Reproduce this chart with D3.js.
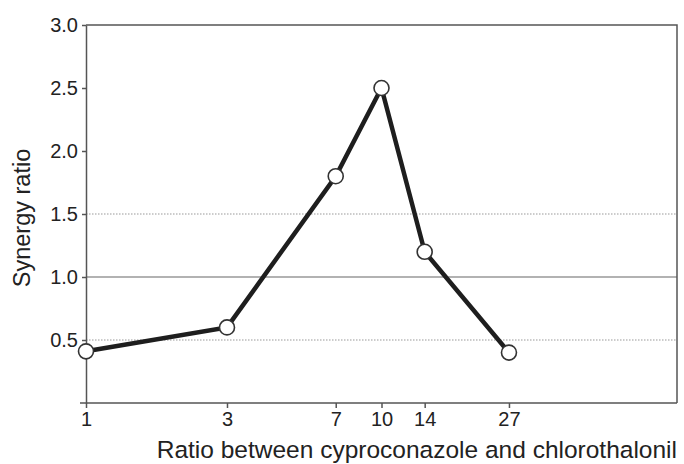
<!DOCTYPE html>
<html>
<head>
<meta charset="utf-8">
<script src="https://cdn.jsdelivr.net/npm/d3@7"></script>
<style>
  body { margin: 0; background: #fff; }
  svg { display: block; font-family: "Liberation Sans", Arial, sans-serif; }
  .axis text { fill: #222; }
  .axis path, .axis line { stroke: #555; stroke-width: 1.5; }
</style>
</head>
<body>
<svg id="chart" width="684" height="464"></svg>
<script>
const ratios = [1, 3, 7, 10, 14, 27];
const synergy = [0.41, 0.6, 1.8, 2.5, 1.2, 0.4];
const yTicks = [0.5, 1.0, 1.5, 2.0, 2.5, 3.0];
const dottedLines = [0.5, 1.5];
const solidLines = [1.0];

const svg = d3.select('#chart');
const margin = { top: 25, right: 7, bottom: 61, left: 86 };
const width = 684, height = 464;

const x = d3.scaleLog().domain([1, 100]).range([margin.left, width - margin.right]);
const y = d3.scaleLinear().domain([0, 3]).range([height - margin.bottom, margin.top]);

// grid
svg.append('g').selectAll('line').data(dottedLines).join('line')
  .attr('x1', margin.left).attr('x2', width - margin.right)
  .attr('y1', (d) => y(d)).attr('y2', (d) => y(d))
  .attr('stroke', '#999').attr('stroke-width', 1.2).attr('stroke-dasharray', '1.5,1.5');
svg.append('g').selectAll('line').data(solidLines).join('line')
  .attr('x1', margin.left).attr('x2', width - margin.right)
  .attr('y1', (d) => y(d)).attr('y2', (d) => y(d))
  .attr('stroke', '#666').attr('stroke-width', 1.2);

// frame top + right
svg.append('path')
  .attr('d', `M${margin.left},${y(3)}H${width - margin.right}V${y(0)}`)
  .attr('fill', 'none').attr('stroke', '#555').attr('stroke-width', 1.5);

svg.append('g').attr('class', 'axis')
  .attr('transform', `translate(0,${y(0)})`)
  .call(d3.axisBottom(x).tickValues(ratios).tickFormat(d3.format('d')).tickSize(5).tickPadding(4).tickSizeOuter(0))
  .call((g) => g.select('.domain').attr('d', `M${margin.left - 6},0H${width - margin.right}`))
  .attr('font-size', 20).attr('font-family', null);

svg.append('g').attr('class', 'axis')
  .attr('transform', `translate(${margin.left},0)`)
  .call(d3.axisLeft(y).tickValues(yTicks).tickFormat(d3.format('.1f')).tickSize(4).tickPadding(4).tickSizeOuter(0))
  .attr('font-size', 20).attr('font-family', null);

const pts = ratios.map((r, i) => ({ r, v: synergy[i] }));
const line = d3.line().x((d) => x(d.r)).y((d) => y(d.v));
svg.append('path').datum(pts)
  .attr('d', line).attr('fill', 'none').attr('stroke', '#1e1e1e').attr('stroke-width', 4.5);
svg.append('g').selectAll('circle').data(pts).join('circle')
  .attr('cx', (d) => x(d.r)).attr('cy', (d) => y(d.v)).attr('r', 7.5)
  .attr('fill', '#fff').attr('stroke', '#333').attr('stroke-width', 1.6);

svg.append('text')
  .attr('x', width - margin.right).attr('y', 458)
  .attr('text-anchor', 'end').attr('fill', '#222').attr('font-size', 24.5)
  .text('Ratio between cyproconazole and chlorothalonil');

svg.append('text')
  .attr('transform', `translate(30,218) rotate(-90)`)
  .attr('text-anchor', 'middle').attr('fill', '#222').attr('font-size', 23.5)
  .text('Synergy ratio');
</script>
</body>
</html>
